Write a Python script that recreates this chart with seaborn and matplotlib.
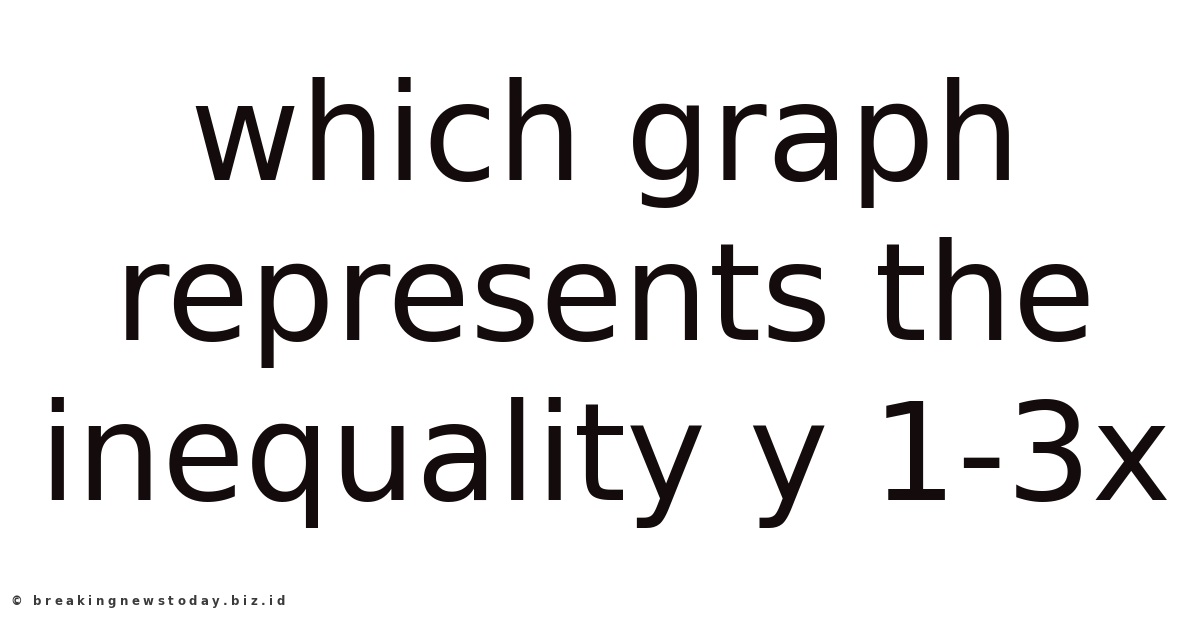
import matplotlib
matplotlib.use("Agg")
import matplotlib.pyplot as plt
import seaborn as sns

# Texto del título (tres líneas) y marca de agua
title_lines = ["which graph", "represents the", "inequality y 1-3x"]
line_baselines = [180, 340, 500]   # píxeles desde arriba
watermark = "© breakingnewstoday.biz.id"

sns.set_theme(style="white")
plt.rcParams['font.family'] = ['DejaVu Sans']

W, H = 1200, 628
fig = plt.figure(figsize=(W / 100, H / 100), dpi=100)
fig.patch.set_facecolor("white")
ax = fig.add_axes([0, 0, 1, 1])
ax.set_xlim(0, W)
ax.set_ylim(H, 0)
ax.axis("off")

for txt, yb in zip(title_lines, line_baselines):
    ax.text(W / 2 + 5, yb, txt, ha="center", va="baseline",
            fontsize=97, color="#140c0c")

# marca de agua con espaciado entre letras (de x=10 a x=285)
renderer = fig.canvas.get_renderer()
wm_size = 8.5
anchos = []
for ch in watermark:
    if ch == " ":
        anchos.append(4.0)
        continue
    t = ax.text(0, 0, ch, fontsize=wm_size, fontweight="bold")
    anchos.append(t.get_window_extent(renderer).width)
    t.remove()
x0, x1 = 10, 285
espacio = (x1 - x0 - sum(anchos)) / (len(watermark) - 1)
x = x0
for ch, w in zip(watermark, anchos):
    if ch != " ":
        ax.text(x, 605, ch, ha="left", va="baseline",
                fontsize=wm_size, fontweight="bold", color="#3a3a3a")
    x += w + espacio

fig.savefig("out.png", dpi=100, facecolor="white")
